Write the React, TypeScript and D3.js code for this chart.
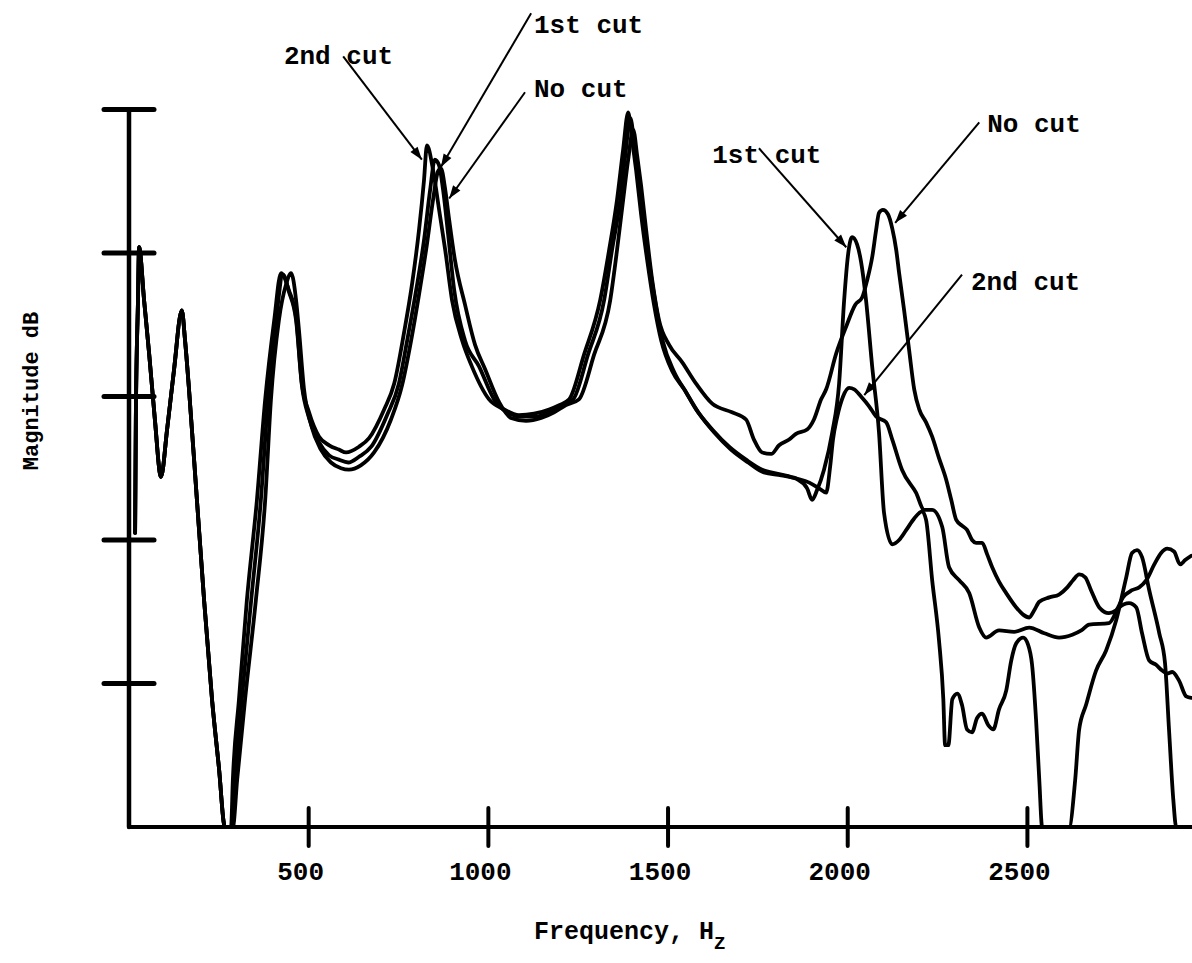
import React from "react";
import * as d3 from "d3";

type Pt = [number, number]; // [frequency in Hz, magnitude in dB]

const WIDTH = 1192;
const HEIGHT = 963;

// Low-frequency stretch where the three traces lie on top of one another
const sharedLowBand: Pt[] = [
  [17, 20.5], [19, 28.4], [25, 36.7], [28, 40.4], [42, 36.7], [56, 33.0], [72, 28.4],
  [89, 24.4], [106, 27.7], [125, 31.8], [147, 36.0], [156, 33.9], [167, 30.5],
  [189, 22.8], [209, 15.8], [231, 8.9], [250, 4.2], [267, 0],
];

const noCut: Pt[] = [
  [289, 0], [301, 3.3], [323, 8.9], [353, 15.8], [379, 22.8], [395, 29.8], [417, 35.3],
  [437, 37.8], [451, 38.6], [465, 36.7], [473, 34.6], [487, 30.5], [507, 28.0], [534, 26.3],
  [562, 25.4], [590, 25.0], [612, 24.9], [645, 25.2], [682, 26.1], [729, 28.4], [760, 30.8],
  [785, 33.9], [807, 37.1], [829, 40.6], [846, 43.7], [860, 45.7], [868, 45.9], [880, 44.4],
  [891, 42.3], [907, 39.5], [935, 36.4], [963, 33.6], [991, 31.9], [1030, 29.6], [1063, 28.5],
  [1105, 28.3], [1147, 28.5], [1183, 28.9], [1216, 29.4], [1252, 29.8], [1294, 32.9],
  [1339, 36.7], [1358, 40.2], [1375, 43.7], [1389, 46.5], [1403, 48.6], [1414, 46.8],
  [1425, 44.7], [1439, 41.6], [1456, 38.1], [1475, 35.3], [1503, 33.6], [1539, 32.4],
  [1578, 30.9], [1623, 29.5], [1678, 28.9], [1717, 28.4], [1739, 27.0], [1762, 26.1],
  [1787, 26.0], [1809, 26.6], [1837, 27.0], [1856, 27.4], [1887, 27.7], [1906, 28.4],
  [1926, 29.8], [1940, 30.5], [1968, 33.0], [1996, 34.9], [2021, 36.4], [2040, 36.9],
  [2054, 38.1], [2068, 39.7], [2079, 41.6], [2087, 42.8], [2098, 43.0], [2112, 42.7],
  [2124, 41.7], [2135, 40.2], [2143, 38.6], [2157, 36.0], [2171, 33.2], [2185, 30.5],
  [2199, 29.1], [2218, 28.2], [2235, 27.2], [2254, 25.7], [2274, 24.2], [2288, 22.8],
  [2302, 21.4], [2318, 21.0], [2332, 20.7], [2346, 20.0], [2357, 19.8], [2374, 19.8],
  [2388, 19.0], [2402, 18.1], [2421, 17.1], [2441, 16.3], [2469, 15.3], [2488, 14.8],
  [2505, 14.6], [2519, 15.1], [2533, 15.7], [2561, 16.0], [2588, 16.2], [2611, 16.7],
  [2627, 17.2], [2644, 17.6], [2661, 17.4], [2677, 16.5], [2700, 15.3], [2727, 14.9],
  [2747, 15.1], [2766, 16.0], [2791, 16.5], [2811, 16.7], [2831, 17.2], [2853, 18.3],
  [2872, 19.1], [2889, 19.4], [2908, 19.2], [2925, 18.3], [2939, 18.6], [2956, 18.9],
];

const firstCut: Pt[] = [
  [287, 0], [295, 3.3], [314, 8.9], [340, 15.8], [367, 22.8], [387, 29.8], [409, 35.3],
  [429, 38.5], [445, 37.3], [465, 35.3], [481, 30.8], [501, 28.5], [529, 26.8], [557, 25.9],
  [584, 25.6], [610, 25.4], [640, 25.8], [674, 26.5], [718, 28.7], [751, 30.9], [774, 33.9],
  [799, 37.4], [821, 40.9], [838, 44.4], [851, 46.5], [863, 46.1], [874, 44.4], [888, 41.3],
  [905, 37.4], [935, 33.9], [974, 32.1], [1016, 29.8], [1052, 28.9], [1091, 28.6],
  [1133, 28.6], [1175, 29.0], [1205, 29.4], [1236, 29.8], [1277, 32.9], [1322, 36.7],
  [1344, 40.2], [1367, 43.7], [1381, 46.8], [1395, 49.4], [1406, 47.7], [1417, 45.6],
  [1431, 42.5], [1447, 39.4], [1467, 36.2], [1486, 33.8], [1517, 31.7], [1550, 30.3],
  [1584, 28.9], [1628, 27.5], [1675, 26.3], [1723, 25.4], [1767, 24.7], [1815, 24.5],
  [1862, 24.2], [1887, 23.6], [1901, 22.8], [1915, 23.5], [1934, 24.9], [1957, 27.5],
  [1976, 30.9], [1990, 36.7], [2001, 39.9], [2012, 41.1], [2026, 40.6], [2037, 39.4],
  [2051, 36.7], [2068, 32.1], [2087, 27.5], [2101, 21.9], [2124, 19.7], [2143, 20.0],
  [2163, 20.7], [2185, 21.5], [2207, 22.0], [2218, 21.4], [2235, 17.2], [2254, 13.0],
  [2266, 8.9], [2271, 5.7], [2280, 5.7], [2291, 8.9], [2305, 9.3], [2318, 8.5], [2332, 6.8],
  [2346, 6.6], [2360, 7.6], [2374, 7.9], [2391, 7.1], [2405, 6.8], [2421, 8.2], [2441, 9.5],
  [2455, 11.6], [2469, 12.8], [2488, 13.2], [2502, 12.7], [2513, 11.3], [2524, 7.5],
  [2533, 3.3], [2541, 0], [2616, 0], [2633, 3.3], [2644, 6.8], [2663, 8.5], [2691, 10.9],
  [2719, 12.3], [2747, 14.4], [2775, 17.4], [2791, 19.1], [2805, 19.3], [2819, 18.8],
  [2839, 16.5], [2867, 13.5], [2883, 11.4], [2894, 6.8], [2906, 1.9], [2914, 0], [2956, 0],
];

const secondCut: Pt[] = [
  [284, 0], [289, 3.3], [306, 8.9], [328, 15.8], [356, 22.8], [379, 29.8], [404, 35.3],
  [423, 38.6], [445, 37.4], [465, 35.5], [481, 30.9], [501, 28.9], [529, 27.2], [557, 26.6],
  [584, 26.3], [604, 26.1], [640, 26.5], [668, 27.1], [710, 29.1], [738, 30.9], [765, 34.4],
  [788, 37.9], [807, 41.6], [821, 45.1], [829, 47.5], [846, 45.8], [863, 43.0], [880, 40.2],
  [899, 36.7], [927, 33.9], [954, 32.1], [1002, 29.8], [1044, 29.1], [1085, 28.7],
  [1127, 28.8], [1169, 29.1], [1197, 29.4], [1225, 29.8], [1266, 32.9], [1311, 36.7],
  [1336, 40.2], [1358, 43.7], [1375, 47.2], [1389, 49.8], [1400, 47.9], [1411, 45.8],
  [1425, 42.7], [1442, 39.5], [1461, 36.4], [1481, 33.9], [1511, 31.8], [1545, 30.5],
  [1578, 29.1], [1623, 27.7], [1670, 26.5], [1717, 25.6], [1762, 24.9], [1809, 24.6],
  [1856, 24.3], [1893, 24.0], [1920, 23.6], [1940, 23.3], [1951, 25.1], [1959, 27.0],
  [1970, 28.5], [1987, 30.0], [2004, 30.6], [2018, 30.5], [2037, 30.0], [2060, 29.3],
  [2079, 28.6], [2107, 28.2], [2124, 27.0], [2151, 24.9], [2190, 23.3], [2213, 22.1],
  [2235, 22.1], [2263, 20.9], [2282, 18.1], [2310, 17.2], [2338, 16.3], [2366, 13.9],
  [2385, 13.2], [2421, 13.7], [2463, 13.6], [2505, 13.9], [2547, 13.5], [2588, 13.2],
  [2625, 13.4], [2650, 13.7], [2672, 14.1], [2727, 14.2], [2755, 15.3], [2783, 15.6],
  [2803, 15.3], [2819, 13.5], [2839, 11.6], [2858, 11.3], [2875, 10.9], [2889, 10.7],
  [2903, 10.8], [2922, 10.2], [2942, 9.1], [2956, 9.0],
];

const xTicks = [500, 1000, 1500, 2000, 2500];
const yTicks = [10, 20, 30, 40, 50];

// Callouts: arrow tip and tail plus label anchor, all in (Hz, dB)
const callouts = [
  { text: "2nd cut", tip: [815, 46.5], tail: [596, 53.7], label: [431, 53.2] },
  { text: "1st cut", tip: [868, 46.0], tail: [1119, 56.7], label: [1127, 55.3] },
  { text: "No cut", tip: [891, 43.8], tail: [1102, 51.2], label: [1127, 50.9] },
  { text: "1st cut", tip: [1996, 40.4], tail: [1753, 47.3], label: [1623, 46.3] },
  { text: "No cut", tip: [2132, 42.1], tail: [2366, 49.1], label: [2388, 48.4] },
  { text: "2nd cut", tip: [2046, 30.1], tail: [2318, 38.5], label: [2343, 37.4] },
];

const FONT = "'Liberation Mono', 'DejaVu Sans Mono', monospace";

export default function App() {
  const x = d3.scaleLinear().domain([0, 2958]).range([129, WIDTH]);
  const y = d3.scaleLinear().domain([0, 50]).range([827, 109.5]);

  const line = d3
    .line<Pt>()
    .x((d) => x(d[0]))
    .y((d) => y(d[1]))
    .curve(d3.curveMonotoneX);

  const traces = [
    { key: "no-cut", pts: [...sharedLowBand, ...noCut] },
    { key: "first-cut", pts: [...sharedLowBand, ...firstCut] },
    { key: "second-cut", pts: [...sharedLowBand, ...secondCut] },
  ];

  const x0 = x(0);
  const yBase = y(0);

  const arrowHead = (tx: number, ty: number, sx: number, sy: number) => {
    const len = 13;
    const half = 4.5;
    const dx = tx - sx;
    const dy = ty - sy;
    const d = Math.hypot(dx, dy);
    const ux = dx / d;
    const uy = dy / d;
    const bx = tx - ux * len;
    const by = ty - uy * len;
    return `M${tx},${ty}L${bx - uy * half},${by + ux * half}L${bx + uy * half},${by - ux * half}Z`;
  };

  return (
    <svg
      width={WIDTH}
      height={HEIGHT}
      viewBox={`0 0 ${WIDTH} ${HEIGHT}`}
      style={{ position: "absolute", left: 0, top: 0, background: "#fff" }}
    >
      <defs>
        <clipPath id="plot-area">
          <rect x={x0} y={0} width={WIDTH - x0} height={yBase + 1.5} />
        </clipPath>
      </defs>

      {/* traces */}
      <g clipPath="url(#plot-area)" fill="none" stroke="#000" strokeWidth={3.8} strokeLinejoin="round" strokeLinecap="round">
        {traces.map((t) => (
          <path key={t.key} d={line(t.pts) ?? ""} />
        ))}
      </g>

      {/* axes */}
      <g stroke="#000" strokeLinecap="round">
        <line x1={x0} x2={x0} y1={y(50)} y2={yBase} strokeWidth={4.5} />
        <line x1={x0} x2={WIDTH} y1={yBase} y2={yBase} strokeWidth={4} />
        {yTicks.map((t) => (
          <line key={`yt-${t}`} x1={x0 - 25} x2={x0 + 25} y1={y(t)} y2={y(t)} strokeWidth={5} />
        ))}
        {xTicks.map((t) => (
          <line key={`xt-${t}`} x1={x(t)} x2={x(t)} y1={yBase - 19} y2={yBase + 19} strokeWidth={4} />
        ))}
      </g>

      {/* tick labels */}
      <g fontFamily={FONT} fontWeight="bold" fontSize={26} fill="#000" textAnchor="middle">
        {xTicks.map((t) => (
          <text key={`xl-${t}`} x={x(t) - 8} y={880}>
            {t}
          </text>
        ))}
      </g>

      {/* axis titles */}
      <text x={534} y={939} fontFamily={FONT} fontWeight="bold" fontSize={25} fill="#000">
        Frequency, H
        <tspan dy={10} fontSize={19}>Z</tspan>
      </text>
      <text
        transform="translate(38,391) rotate(-90)"
        fontFamily={FONT}
        fontWeight="bold"
        fontSize={22}
        fill="#000"
        textAnchor="middle"
      >
        Magnitude dB
      </text>

      {/* callouts */}
      <g>
        {callouts.map((c, i) => {
          const tx = x(c.tip[0]);
          const ty = y(c.tip[1]);
          const sx = x(c.tail[0]);
          const sy = y(c.tail[1]);
          return (
            <g key={`co-${i}`}>
              <line x1={sx} y1={sy} x2={tx} y2={ty} stroke="#000" strokeWidth={2} />
              <path d={arrowHead(tx, ty, sx, sy)} fill="#000" />
              <text
                x={x(c.label[0])}
                y={y(c.label[1])}
                fontFamily={FONT}
                fontWeight="bold"
                fontSize={26}
                fill="#000"
              >
                {c.text}
              </text>
            </g>
          );
        })}
      </g>
    </svg>
  );
}
